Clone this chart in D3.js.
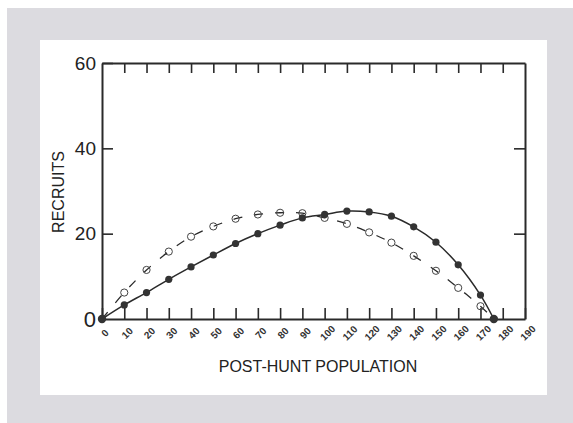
<!DOCTYPE html>
<html>
<head>
<meta charset="utf-8">
<script src="https://cdn.jsdelivr.net/npm/d3@7"></script>
<style>
  body { margin: 0; background: #fff; }
  svg { display: block; }
</style>
</head>
<body>
<script>
// harvest data
var popX = [0, 10, 20, 30, 40, 50, 60, 70, 80, 90, 100, 110, 120, 130, 140, 150, 160, 170, 176];
var recruitsSolid = [0, 3.3, 6.2, 9.3, 12.2, 15.0, 17.7, 20.0, 22.0, 23.7, 24.5, 25.3, 25.1, 24.1, 21.6, 18.0, 12.7, 5.6, 0];
var recruitsOpen = [0, 6.2, 11.5, 15.8, 19.3, 21.7, 23.5, 24.5, 24.9, 24.8, 23.7, 22.3, 20.3, 17.9, 14.8, 11.3, 7.3, 3.0, 0];
var xTicks = [0, 10, 20, 30, 40, 50, 60, 70, 80, 90, 100, 110, 120, 130, 140, 150, 160, 170, 180, 190];
var yTicks = [0, 20, 40, 60];

var W = 573, H = 423;
var margin = {top: 63, right: 48, bottom: 104, left: 102},
    width = W - margin.left - margin.right,
    height = H - margin.top - margin.bottom;

var svg = d3.select("body").append("svg")
    .attr("width", W)
    .attr("height", H);

// grey frame and white panel
svg.append("rect").attr("x", 7).attr("y", 8).attr("width", W - 7).attr("height", H - 8)
    .attr("fill", "#dcdbe0");
svg.append("rect").attr("x", 40).attr("y", 40).attr("width", 507).attr("height", 355)
    .attr("fill", "#fff");

var g = svg.append("g")
    .attr("transform", "translate(" + margin.left + "," + margin.top + ")");

var x = d3.scaleLinear().domain([0, 190]).range([0, width]);
var y = d3.scaleLinear().domain([0, 60]).range([height, 0]);

var ink = "#2a2a2a";

// axes, ticks pointing inwards
var bottom = g.append("g")
    .attr("transform", "translate(0," + height + ")")
    .call(d3.axisBottom(x).tickValues(xTicks).tickSizeInner(-11).tickSizeOuter(0).tickPadding(0));
bottom.selectAll("text").remove();

var top = g.append("g")
    .call(d3.axisTop(x).tickValues(xTicks.filter(function(d){ return d > 0 && d < 190; }))
        .tickSizeInner(-10).tickSizeOuter(0).tickFormat(""));

var left = g.append("g")
    .call(d3.axisLeft(y).tickValues(yTicks).tickSizeInner(-11).tickSizeOuter(0).tickPadding(6));

var right = g.append("g")
    .attr("transform", "translate(" + width + ",0)")
    .call(d3.axisRight(y).tickValues([20, 40]).tickSizeInner(-11).tickSizeOuter(0).tickFormat(""));

g.selectAll(".domain").attr("stroke", ink).attr("stroke-width", 2);
g.selectAll(".tick line").attr("stroke", ink).attr("stroke-width", 1.6);

left.selectAll("text")
    .attr("font-family", "Liberation Sans, Arial, sans-serif")
    .attr("font-size", 19)
    .attr("fill", "#222");
left.selectAll(".tick").filter(function(d){ return d === 0; }).select("text")
    .attr("font-size", 22).attr("dy", "0.36em");
left.selectAll(".tick").filter(function(d){ return d === 0; }).select("line").remove();

// rotated x tick labels
g.append("g").selectAll("text")
    .data(xTicks)
    .enter().append("text")
    .attr("transform", function(d) {
        return "translate(" + (x(d) + 3) + "," + (height + 14) + ") rotate(-45)";
    })
    .attr("text-anchor", "middle")
    .attr("dy", "0.35em")
    .attr("font-family", "Liberation Sans, Arial, sans-serif")
    .attr("font-size", 10)
    .attr("font-weight", "bold")
    .attr("fill", "#333")
    .text(function(d) { return d; });

// axis titles
svg.append("text")
    .attr("x", 318).attr("y", 372)
    .attr("text-anchor", "middle")
    .attr("font-family", "Liberation Sans, Arial, sans-serif")
    .attr("font-size", 16)
    .attr("fill", "#222")
    .text("POST-HUNT POPULATION");

svg.append("text")
    .attr("transform", "translate(64,192) rotate(-90)")
    .attr("text-anchor", "middle")
    .attr("font-family", "Liberation Sans, Arial, sans-serif")
    .attr("font-size", 16)
    .attr("fill", "#222")
    .text("RECRUITS");

var solid = popX.map(function(d, i) { return {x: d, y: recruitsSolid[i]}; });
var open = popX.map(function(d, i) { return {x: d, y: recruitsOpen[i]}; });

var line = d3.line()
    .x(function(d) { return x(d.x); })
    .y(function(d) { return y(d.y); })
    .curve(d3.curveCatmullRom);

g.append("path")
    .datum(open)
    .attr("fill", "none")
    .attr("stroke", ink)
    .attr("stroke-width", 1.3)
    .attr("stroke-dasharray", "9,12")
    .attr("d", line);

g.append("path")
    .datum(solid)
    .attr("fill", "none")
    .attr("stroke", ink)
    .attr("stroke-width", 1.5)
    .attr("d", line);

g.selectAll(".open")
    .data(open.slice(1, -1))
    .enter().append("circle")
    .attr("class", "open")
    .attr("cx", function(d) { return x(d.x); })
    .attr("cy", function(d) { return y(d.y); })
    .attr("r", 3.6)
    .attr("fill", "none")
    .attr("stroke", "#444")
    .attr("stroke-width", 1);

g.selectAll(".solid")
    .data(solid)
    .enter().append("circle")
    .attr("class", "solid")
    .attr("cx", function(d) { return x(d.x); })
    .attr("cy", function(d) { return y(d.y); })
    .attr("r", function(d, i) { return (i === 0 || i === solid.length - 1) ? 4.2 : 3.6; })
    .attr("fill", "#333");
</script>
</body>
</html>
